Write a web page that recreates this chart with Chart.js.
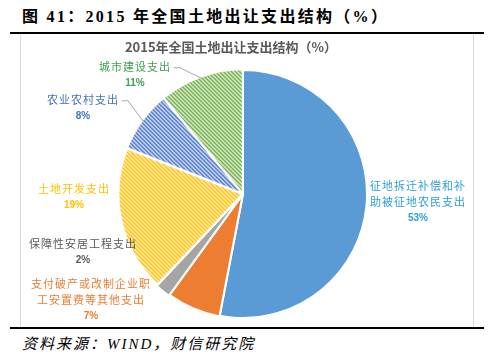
<!DOCTYPE html>
<html>
<head>
<meta charset="utf-8">
<script src="https://cdn.jsdelivr.net/npm/chart.js@4"></script>
<style>
  body { margin: 0; width: 500px; height: 363px; background: #fff; position: relative; overflow: hidden; }
  .fig-title { position: absolute; left: 22px; top: 3px; font: bold 16px "Liberation Serif", "Noto Sans CJK SC"; letter-spacing: 2.3px; color: #000; white-space: nowrap; }
  .rule { position: absolute; left: 10px; width: 474px; height: 2px; background: #000; }
  .box { position: absolute; left: 20px; top: 34px; width: 452px; height: 293px; border-left: 1px solid #d9d9d9; border-right: 1px solid #d9d9d9; }
  #chart { position: absolute; left: 21px; top: 34px; }
  .source { position: absolute; left: 22px; top: 332px; font: italic 15px "Liberation Serif", "Noto Sans CJK SC"; letter-spacing: 2px; color: #000; white-space: nowrap; }
</style>
</head>
<body>
<div class="fig-title">图 41：2015 年全国土地出让支出结构（%）</div>
<div class="rule" style="top:32px"></div>
<div class="box"></div>
<canvas id="chart" width="452" height="293"></canvas>
<div class="rule" style="top:327px"></div>
<div class="source">资料来源：WIND，财信研究院</div>

<script>
// data, clockwise from 12 o'clock
const chartTitle = '2015年全国土地出让支出结构（%）';
const categories = [
    ['征地拆迁补偿和补', '助被征地农民支出'],
    ['支付破产或改制企业职', '工安置费等其他支出'],
    ['保障性安居工程支出'],
    ['土地开发支出'],
    ['农业农村支出'],
    ['城市建设支出']
];
const shares = [53, 7, 2, 19, 8, 11];

// styling
const labelColors = ['#2e9fdb', '#ed7d31', '#595959', '#ffc000', '#4472c4', '#3fa34d'];
// label block centre, relative to pie centre
const labelOffsets = [[175, 8], [-152, 106], [-160, 58], [-169, 3], [-160, -86], [-108, -119]];
const leaderLines = [false, false, false, false, true, true];

function stripes(fg, bg) {
    var c = document.createElement('canvas');
    c.width = 8; c.height = 8;
    var g = c.getContext('2d');
    g.fillStyle = bg;
    g.fillRect(0, 0, 8, 8);
    g.fillStyle = fg;
    for (var y = 0; y < 8; y++) {
        for (var x = 0; x < 8; x++) {
            if (((x - y) % 4 + 4) % 4 < 2) g.fillRect(x, y, 1, 1);
        }
    }
    return g.createPattern(c, 'repeat');
}

const sliceColors = [
    '#5b9bd5',
    '#ed7d31',
    '#a5a5a5',
    stripes('#ffc000', '#fff1c4'),
    stripes('#4472c4', '#dbe3f4'),
    stripes('#70ad47', '#e0eed6')
];

const labelPlugin = {
    id: 'sliceLabels',
    afterDatasetsDraw(chart) {
        const ctx = chart.ctx;
        const arcs = chart.getDatasetMeta(0).data;
        const cx = arcs[0].x, cy = arcs[0].y;

        ctx.save();
        // chart title
        ctx.fillStyle = '#595959';
        ctx.font = 'bold 13px "Noto Sans CJK SC"';
        ctx.textAlign = 'center';
        ctx.textBaseline = 'middle';
        ctx.fillText(chartTitle, cx - 12, 13);

        arcs.forEach(function(arc, i) {
            const lines = categories[i].concat([shares[i] + '%']);
            const lh = 16.5;
            const bx = cx + labelOffsets[i][0];
            const by = cy + labelOffsets[i][1] - (lines.length - 1) * lh / 2;
            ctx.fillStyle = labelColors[i];
            let maxW = 0;
            lines.forEach(function(t, k) {
                const isPct = k === lines.length - 1;
                ctx.font = isPct ? 'bold 10px "Liberation Sans"' : '11px "Noto Sans CJK SC"';
                ctx.letterSpacing = isPct ? '0px' : '1px';
                ctx.fillText(t, bx, by + k * lh);
                if (!isPct) maxW = Math.max(maxW, ctx.measureText(t).width);
            });

            if (leaderLines[i]) {
                const mid = (arc.startAngle + arc.endAngle) / 2;
                const ex = arc.x + Math.cos(mid) * (arc.outerRadius - 1);
                const ey = arc.y + Math.sin(mid) * (arc.outerRadius - 1);
                const sx = bx + maxW / 2 + 3;
                ctx.strokeStyle = '#a6a6a6';
                ctx.lineWidth = 1;
                ctx.beginPath();
                ctx.moveTo(sx, by + 1);
                ctx.lineTo(sx + 6, by + 1);
                ctx.lineTo(ex, ey);
                ctx.stroke();
            }
        });
        ctx.restore();
    }
};

window.onload = function() {
    const ctx = document.getElementById('chart').getContext('2d');
    new Chart(ctx, {
        type: 'pie',
        data: {
            labels: categories,
            datasets: [{
                data: shares,
                backgroundColor: sliceColors,
                borderColor: '#ffffff',
                borderWidth: 2,
                offset: [0, 2, 4, 2, 2, 2]
            }]
        },
        options: {
            responsive: false,
            animation: false,
            layout: { padding: { left: 95, right: 103, top: 33, bottom: 6 } },
            plugins: {
                legend: { display: false },
                title: { display: false },
                tooltip: { enabled: false }
            }
        },
        plugins: [labelPlugin]
    });
};
</script>
</body>
</html>
